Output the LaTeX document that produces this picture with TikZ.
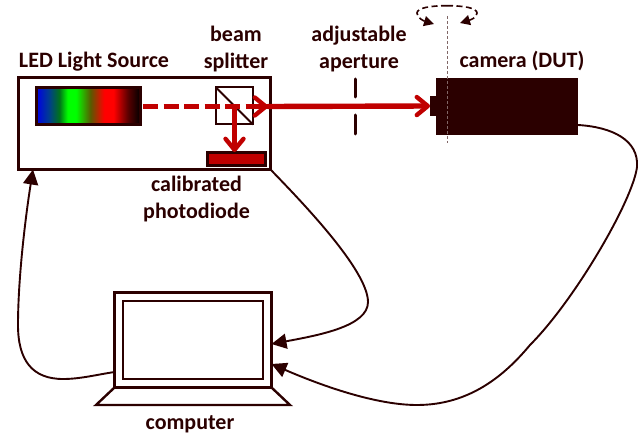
\documentclass[tikz,border=0pt]{standalone}
\usepackage{fontspec}
\setmainfont{Carlito}
\usetikzlibrary{arrows.meta,calc}
\definecolor{dk}{HTML}{2B0000}
\definecolor{beam}{HTML}{C00000}
\pgfdeclarehorizontalshading{spec}{100bp}{color(0bp)=(blue!90!black); color(25bp)=(blue!90!black); color(31bp)=(blue!70!green!80!black); color(36bp)=(green!50!black!90!blue); color(40bp)=(green); color(44bp)=(green); color(51bp)=(green!50!red!70!black); color(57.5bp)=(red); color(62bp)=(red); color(69bp)=(red!35!black); color(75bp)=(black); color(100bp)=(black)}
\tikzset{
  x=1pt,y=-1pt,
  lbl/.style={text=dk,font=\fontsize{22}{27}\selectfont\bfseries,align=center,inner sep=0pt},
  boxat/.style={draw=dk,inner sep=0pt,outer sep=0pt,line width=#1},
  cable/.style={draw=dk,line width=1.9pt},
  cabletip/.style={cable,-{Triangle[length=15pt,width=15pt]}},
  beamln/.style={draw=beam,line width=5.4pt},
  beamtip/.style={-{Straight Barb[length=11pt,width=18pt,line width=4.4pt,round]}},
}
\begin{document}
\begin{tikzpicture}
\useasboundingbox (0,0) rectangle (638,436);
% source box
\node[boxat=2.2pt,minimum width=252pt,minimum height=92pt,anchor=north west] (source) at (18.5,77.5) {};
\node[boxat=2.2pt,minimum width=104pt,minimum height=37pt,anchor=north west,shading=spec,shading angle=0] (spectrum) at (36.5,87.5) {};
\node[boxat=2pt,minimum width=37pt,minimum height=37pt,anchor=north west] (splitter) at (216,87.5) {};
\draw[dk,line width=1.8pt] (splitter.north west) -- (splitter.south east);
\node[boxat=3pt,fill=beam,minimum width=58pt,minimum height=13pt,anchor=north west] (diode) at (207,152) {};
% computer
\node[boxat=2.4pt,minimum width=157pt,minimum height=95pt,anchor=north west] (laptop) at (114.5,292.5) {};
\node[boxat=2.4pt,minimum width=140pt,minimum height=78pt,anchor=north west] (screen) at (123,301) {};
\coordinate (bl) at (96,405);
\coordinate (br) at (290,405);
\draw[dk,line width=2.4pt,line join=miter] (laptop.south west) -- (bl) -- (br) -- (laptop.south east);
% camera
\node[fill=dk,minimum width=142pt,minimum height=57pt,inner sep=0pt,outer sep=0pt,anchor=north west] (camera) at (436,78) {};
\node[fill=dk,minimum width=6pt,minimum height=20pt,inner sep=0pt,outer sep=0pt,anchor=east] (lens) at (436,106) {};
% axis and rotation
\coordinate (axT) at (447.5,16);
\coordinate (axB) at (447.5,143);
\draw[dk!60!white,line width=1.1pt,densely dashed] (axT) -- (axB);
\draw[dk,line width=1.6pt,dash pattern=on 6pt off 3.5pt,-{Triangle[length=10pt,width=10pt]}] (447,5.7) .. controls (430,5.7) and (417,8) .. (417,13) .. controls (417,18) and (424,21) .. (434,24);
\draw[dk,line width=1.6pt,dash pattern=on 6pt off 3.5pt,-{Triangle[length=10pt,width=10pt]}] (447,5.7) .. controls (464,5.7) and (477,8) .. (477,13) .. controls (477,18) and (470,20) .. (460,23);
% aperture
\coordinate (a1) at (355.5,79); \coordinate (a2) at (355.5,97);
\coordinate (a3) at (355.5,115); \coordinate (a4) at (355.5,134);
\draw[dk,line width=3pt,line cap=round] (a1) -- (a2) (a3) -- (a4);
% beams
\coordinate (bs) at (143,106.5);
\coordinate (bj) at (268,106.5);
\coordinate (bc) at (234.5,106.5);
\draw[beamln,dash pattern=on 15pt off 5.5pt] (bs) -- (bj);
\draw[beamln,beamtip] (253,106.5) -- (bj);
\draw[beamln,beamtip] (bj) -- (lens.west);
\draw[beamln,beamtip] (bc) -- (bc |- diode.north);
% cables
\draw[cabletip] (camera.east |- 0,125) .. controls (612,127) and (639,140) .. (637,167) .. controls (633,200) and (575,300) .. (530,345) .. controls (505,375) and (470,405) .. (417,405) .. controls (375,405) and (320,385) .. (laptop.east |- 0,364);
\draw[cabletip] (source.south east) .. controls (300,200) and (368,270) .. (368,302) .. controls (368,326) and (320,335) .. (laptop.east |- 0,344);
\draw[cabletip] (laptop.west |- 0,372) .. controls (95,375) and (80,379) .. (63,379) .. controls (32,379) and (18,360) .. (18,325) .. controls (18,280) and (25,220) .. (source.south west -| 33,0);
% labels
\node[lbl] (t1) at (94,61.5) {LED Light Source};
\node[lbl] (t2) at (236,49) {beam\\splitter};
\node[lbl] (t3) at (359,49) {adjustable\\aperture};
\node[lbl] (t4) at (522,61.5) {camera (DUT)};
\node[lbl] (t5) at (196.5,199.5) {calibrated\\photodiode};
\node[lbl] (t6) at (190,424) {computer};
\end{tikzpicture}
\end{document}
